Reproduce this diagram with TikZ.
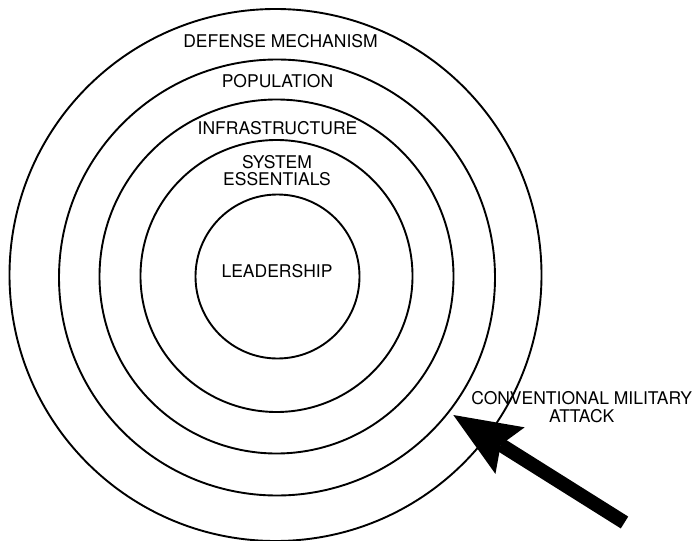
\documentclass[tikz,border=0pt]{standalone}
\usepackage{fontspec}
\setmainfont{TeX Gyre Heros}
\usetikzlibrary{arrows.meta}
\tikzstyle{ring}=[draw,shape=circle,line width=1.9pt,inner sep=0pt]
\tikzstyle{lbl}=[font=\fontsize{17.5}{17.2}\selectfont,align=center,inner sep=0pt]

\begin{document}
\begin{tikzpicture}[x=1pt,y=-1pt]
\useasboundingbox (0,0) rectangle (695,540);

\node[ring,minimum size=532pt] (defense) at (275.5,275) {};
\node[ring,minimum size=436pt] (population) at (277,277.5) {};
\node[ring,minimum size=354pt] (infra) at (276.5,276.5) {};
\node[ring,minimum size=272pt] (essentials) at (276.5,276) {};
\node[ring,minimum size=164pt] (leadership) at (277.5,276.5) {};

\node[lbl] (ldefense) at (280.5,41.2) {DEFENSE MECHANISM};
\node[lbl] (lpopulation) at (277.5,81.2) {POPULATION};
\node[lbl] (linfra) at (277.5,127.8) {INFRASTRUCTURE};
\node[lbl] (lessentials) at (277,170.9) {SYSTEM\\ESSENTIALS};
\node[lbl] (lleadership) at (277,270.9) {LEADERSHIP};
\node[lbl] (lattack) at (581.7,407.2) {CONVENTIONAL MILITARY\\ATTACK};

\coordinate (attack) at (624.5,522.5);
\coordinate (hit) at (453.3,415);
\draw[line width=14pt,-{Stealth[length=67pt,width=55pt,inset=11pt,line width=0pt]}]
	(attack) -- (hit);

\end{tikzpicture}
\end{document}
